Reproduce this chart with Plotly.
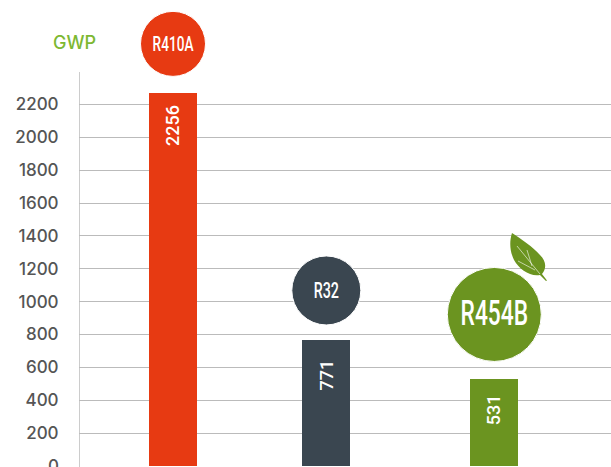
import plotly.graph_objects as go

W, H = 611, 467
names = ["R410A", "R32", "R454B"]
value_labels = ["2256", "771", "531"]
bar_tops = [2270, 767, 530]
centers = [173, 326.3, 494.3]
colors = ["#E73A12", "#3A4650", "#6B9420"]
badge_y = [2568, 1068, 922]
badge_size = [65, 69, 94]
badge_font = [21, 22, 35]
label_y = [2069, 553, 341]
tick_values = list(range(0, 2201, 200))

Y_BOTTOM = -6
Y_TOP = 2835
AXIS_TOP = 2397
FONT = "Inter, Liberation Sans, sans-serif"
NARROW = "Roboto, sans-serif"


def P(x, y):
    return f"{(x - 79) / (W - 79):.4f},{1 - y / H:.4f}"


fig = go.Figure()
fig.add_trace(go.Bar(
    x=centers, y=bar_tops, width=48, marker=dict(color=colors, line=dict(width=0)),
    hoverinfo="skip", showlegend=False,
))
fig.add_trace(go.Scatter(
    x=centers, y=badge_y, mode="markers+text", text=names,
    textposition="middle center",
    textfont=dict(family=NARROW, size=badge_font, color="white", weight=500),
    marker=dict(size=badge_size, color=colors, opacity=1, line=dict(color="white", width=1)),
    cliponaxis=False, hoverinfo="skip", showlegend=False,
))

for c, v, ly in zip(centers, value_labels, label_y):
    fig.add_annotation(x=c, y=ly, text=v, textangle=-90, showarrow=False,
                       font=dict(family=NARROW, size=18, color="white", weight=500))

fig.add_annotation(xref="paper", yref="paper", x=(74 - 79) / (W - 79), y=1 - 42 / H, text="GWP",
                   xanchor="center", yanchor="middle",
                   showarrow=False, font=dict(family=FONT, size=18, color="#7DB832", weight=500))
# plotly drops the tick label that overflows the page, so the zero label is placed directly
fig.add_annotation(xref="paper", yref="y", x=(60.5 - 79) / (W - 79), y=0, text="0",
                   xanchor="right", yanchor="middle", showarrow=False,
                   font=dict(family=FONT, size=17, color="#555555", weight=500))

leaf = (f"M {P(512,233)} C {P(509,242)} {P(510,252)} {P(514,260)} "
        f"C {P(519,269)} {P(530,277)} {P(540,275)} L {P(546,281)} L {P(547,280.5)} L {P(542,274)} "
        f"C {P(547,268)} {P(546,261)} {P(540,255)} C {P(533,247)} {P(521,239)} {P(512,233)} Z")
shapes = [
    dict(type="line", xref="x", yref="y", x0=79, x1=79, y0=Y_BOTTOM, y1=AXIS_TOP,
         line=dict(color="#CCCCCC", width=2), layer="below"),
    dict(type="path", xref="paper", yref="paper", path=leaf,
         fillcolor="#6B9420", line=dict(width=0), layer="above"),
]
for v in (f"M {P(517,246)} L {P(540,274)}", f"M {P(518,261)} L {P(535,270)}", f"M {P(527,250)} L {P(532,266)}"):
    shapes.append(dict(type="path", xref="paper", yref="paper", path=v,
                       line=dict(color="rgba(255,255,255,0.75)", width=0.8), layer="above"))

fig.update_layout(
    shapes=shapes,
    width=W, height=H, autosize=False,
    margin=dict(l=79, r=0, t=0, b=0, pad=0),
    paper_bgcolor="white", plot_bgcolor="white",
    showlegend=False, bargap=0,
    xaxis=dict(range=[79, 611], visible=False, fixedrange=True),
    yaxis=dict(
        range=[Y_BOTTOM, Y_TOP], tickvals=tick_values, ticktext=[str(t) for t in tick_values],
        tickfont=dict(family=FONT, size=17, color="#555555", weight=500),
        gridcolor="#BBBBBB", gridwidth=1, zeroline=False, showline=False,
        ticks="outside", ticklen=16, tickcolor="rgba(0,0,0,0)", fixedrange=True,
    ),
)

# Badge lettering in the reference is a condensed face: narrow the real text in place.
post = """
document.body.style.margin='0';document.body.style.overflow='hidden';
document.querySelectorAll('.textpoint text').forEach(function(t){
  var b=t.getBBox(),cx=b.x+b.width/2;
  t.setAttribute('transform','translate('+cx+',2) scale(0.65,1) translate('+(-cx)+',0)');
});
"""
fig.write_html("out.html", config=dict(displayModeBar=False), post_script=post)
